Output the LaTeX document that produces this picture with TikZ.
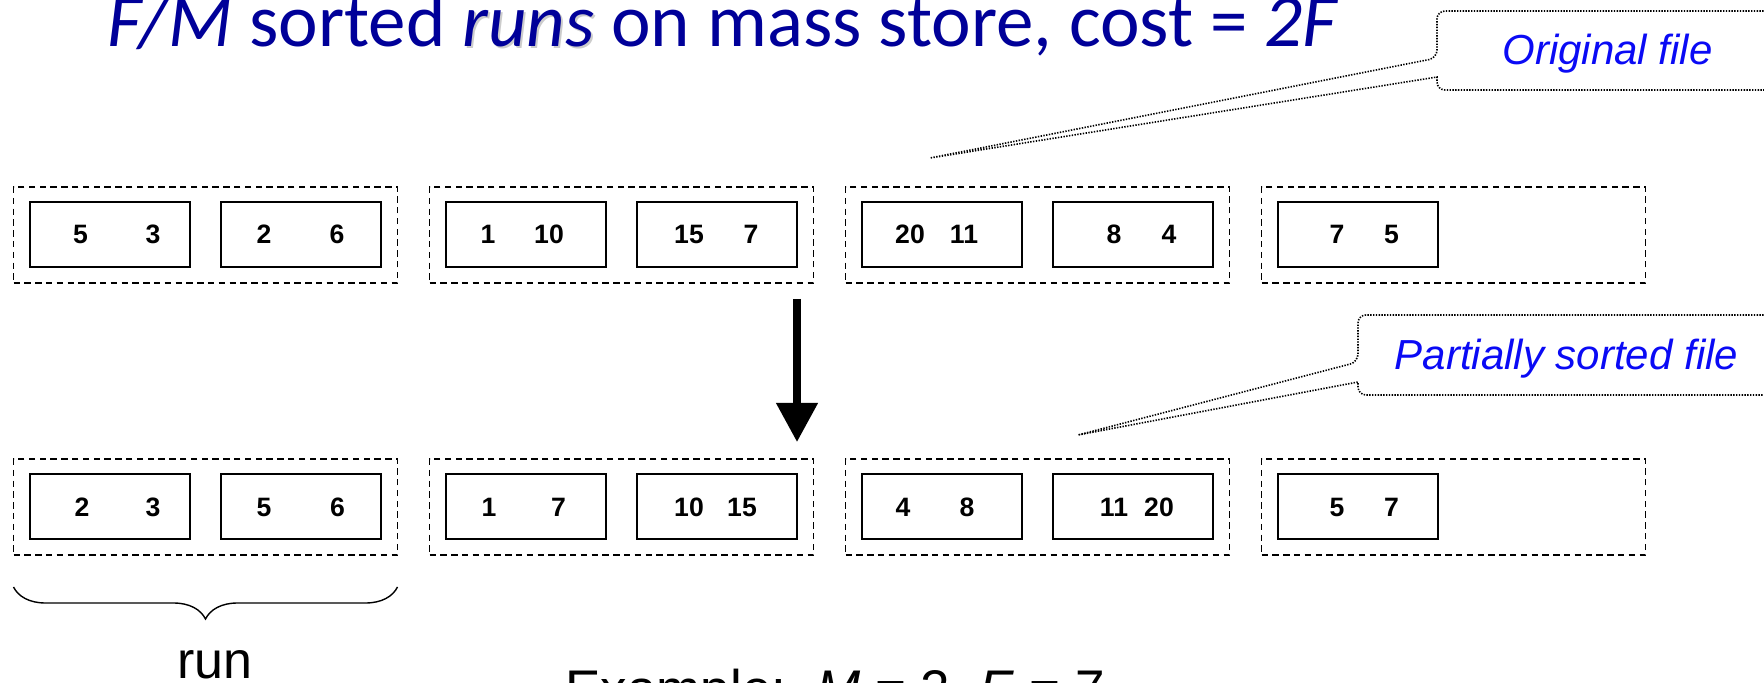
\documentclass[tikz,border=0pt]{standalone}
\usepackage{fontspec}
\setmainfont{Liberation Sans}
\newfontfamily\titlefont{Carlito}
\usetikzlibrary{arrows.meta,decorations.pathreplacing}
\definecolor{titleblue}{RGB}{0,0,153}
\definecolor{calloutblue}{RGB}{10,10,245}
\begin{document}
\begin{tikzpicture}[x=0.5pt,y=-0.5pt,
  cell/.style={draw=black, line width=1pt, minimum width=80pt, minimum height=32.5pt, inner sep=0pt},
  runbox/.style={draw=black, line width=0.75pt, dash pattern=on 3.2pt off 2.2pt, minimum width=192pt, minimum height=48pt, inner sep=0pt},
  num/.style={font=\fontsize{13.3}{15}\selectfont\bfseries, anchor=base, inner sep=0pt},
  callout/.style={draw=black, line width=0.8pt, dash pattern=on 0.7pt off 0.7pt},
  calltext/.style={font=\fontsize{21}{25}\selectfont\itshape, text=calloutblue, anchor=base, inner sep=0pt},
  bigarrow/.style={line width=3.75pt, -{Triangle[width=20pt,length=19.5pt]}},
  bracestyle/.style={line width=0.7pt, decorate, decoration={brace, mirror, amplitude=16pt}},
  plaintext/.style={inner sep=0pt, font=\fontsize{26}{30}\selectfont}
]
\useasboundingbox (0,0) rectangle (1764,683);
\clip (0,0) rectangle (1764,683);

% title
\node[anchor=base west, inner sep=0pt, text=titleblue, font=\titlefont\fontsize{37.5}{40}\selectfont] (title) at (107,47)
  {\textit{F/M} sorted \textit{\rlap{\textcolor{gray!40}{\kern1pt\raisebox{-1pt}{runs}}}runs} on mass store, cost = \textit{2F}};

% callout 1
\node[calltext] (orig) at (1607.5,65) {Original file};
\coordinate (tipA) at (930,158);
\draw[callout] (1800,11) [rounded corners=4pt] -- (1437,11) -- (1437,58) [sharp corners] -- (tipA) -- (1437,77) [rounded corners=4pt] -- (1437,90) -- (1800,90);

% callout 2
\node[calltext] (part) at (1566.5,370) {Partially sorted file};
\coordinate (tipB) at (1078,435);
\draw[callout] (1800,315) [rounded corners=4pt] -- (1358,315) -- (1358,362) [sharp corners] -- (tipB) -- (1358,382) [rounded corners=4pt] -- (1358,395) -- (1800,395);

% top row: runs
\node[runbox] (tr1) at (205.5,235) {};
\node[runbox] (tr2) at (621.5,235) {};
\node[runbox] (tr3) at (1037.5,235) {};
\node[runbox] (tr4) at (1453.5,235) {};
\node[cell] (t1a) at (109.5,234.5) {};
\node[cell] (t1b) at (301,234.5) {};
\node[cell] (t2a) at (525.5,234.5) {};
\node[cell] (t2b) at (717,234.5) {};
\node[cell] (t3a) at (941.5,234.5) {};
\node[cell] (t3b) at (1133,234.5) {};
\node[cell] (t4a) at (1357.5,234.5) {};
\node[num] (n1) at (80.5,244) {5};
\node[num] (n2) at (153,244) {3};
\node[num] (n3) at (264,244) {2};
\node[num] (n4) at (337,244) {6};
\node[num] (n5) at (488,244) {1};
\node[num] (n6) at (549,244) {10};
\node[num] (n7) at (689,244) {15};
\node[num] (n8) at (751,244) {7};
\node[num] (n9) at (910,244) {20};
\node[num] (n10) at (964,244) {11};
\node[num] (n11) at (1114,244) {8};
\node[num] (n12) at (1169,244) {4};
\node[num] (n13) at (1337,244) {7};
\node[num] (n14) at (1391.5,244) {5};

% arrow
\coordinate (arrS) at (797,299);
\coordinate (arrE) at (797,442);
\draw[bigarrow] (arrS) -- (arrE);

% bottom row: sorted runs
\node[runbox] (br1) at (205.5,507) {};
\node[runbox] (br2) at (621.5,507) {};
\node[runbox] (br3) at (1037.5,507) {};
\node[runbox] (br4) at (1453.5,507) {};
\node[cell] (b1a) at (109.5,506.5) {};
\node[cell] (b1b) at (301,506.5) {};
\node[cell] (b2a) at (525.5,506.5) {};
\node[cell] (b2b) at (717,506.5) {};
\node[cell] (b3a) at (941.5,506.5) {};
\node[cell] (b3b) at (1133,506.5) {};
\node[cell] (b4a) at (1357.5,506.5) {};
\node[num] (m1) at (82,516) {2};
\node[num] (m2) at (153,516) {3};
\node[num] (m3) at (264,516) {5};
\node[num] (m4) at (337.5,516) {6};
\node[num] (m5) at (489,516) {1};
\node[num] (m6) at (558.5,516) {7};
\node[num] (m7) at (689,516) {10};
\node[num] (m8) at (742,516) {15};
\node[num] (m9) at (903,516) {4};
\node[num] (m10) at (967,516) {8};
\node[num] (m11) at (1114,516) {11};
\node[num] (m12) at (1159,516) {20};
\node[num] (m13) at (1337,516) {5};
\node[num] (m14) at (1391.5,516) {7};

% brace and labels
\coordinate (brL) at (13.5,587);
\coordinate (brR) at (397.5,587);
\draw[bracestyle] (brL) -- (brR);
\node[plaintext, anchor=base] (runlbl) at (215,678) {run};
\node[plaintext, anchor=base west, font=\fontsize{26.5}{30}\selectfont] (example) at (565,707)
  {Example:\hspace{15pt}\textit{M} = 2, \textit{F} = 7};
\end{tikzpicture}
\end{document}
